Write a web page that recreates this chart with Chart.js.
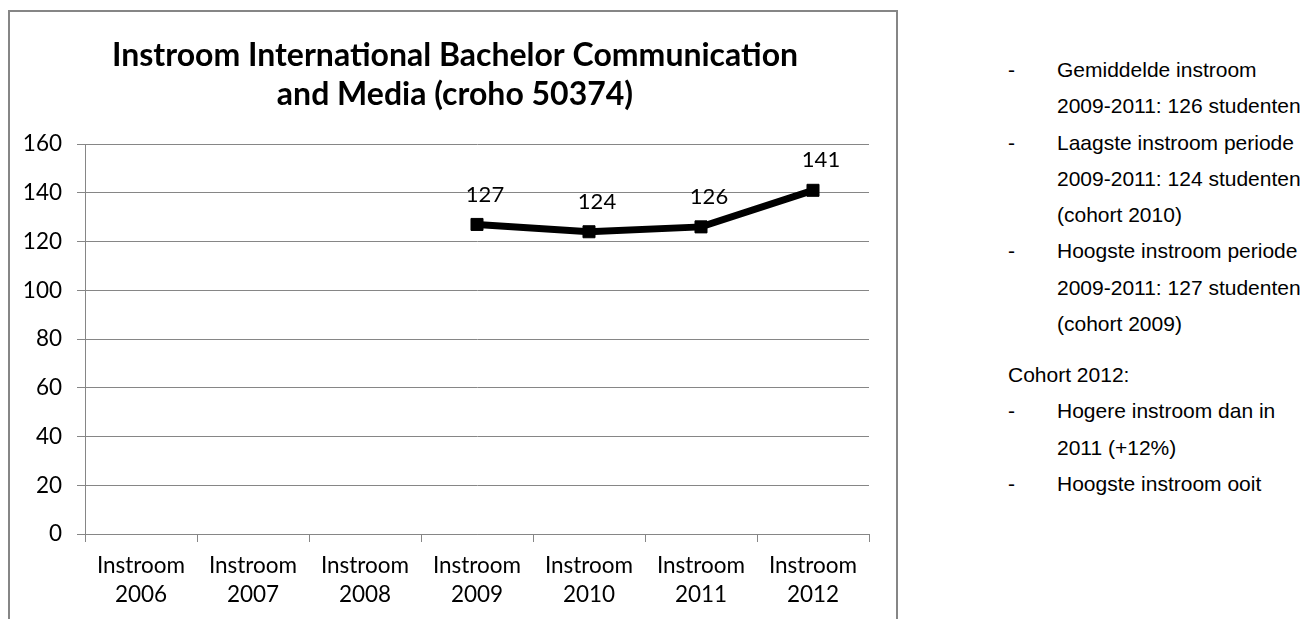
<!DOCTYPE html>
<html lang="nl">
<head>
<meta charset="utf-8">
<title>Instroom International Bachelor Communication and Media</title>
<script src="https://cdn.jsdelivr.net/npm/chart.js@4.4.1/dist/chart.umd.min.js"></script>
<style>
  html, body { margin: 0; padding: 0; background: #fff; overflow: hidden; }
  #frame {
    position: absolute; left: 8px; top: 10px; width: 890px; height: 700px;
    border: 2px solid #868686; box-sizing: border-box;
  }
  #chartBox { position: absolute; left: 0; top: 0; width: 910px; height: 619px; }
  .notes {
    position: absolute; left: 1008px; color: #000; white-space: nowrap;
    font-family: 'Liberation Sans', Arial, sans-serif; font-size: 21px; line-height: 36.3px;
  }
  .item { position: relative; padding-left: 49px; }
  .item .dash { position: absolute; left: 0; top: 0; }
</style>
</head>
<body>
<div id="frame"></div>
<div id="chartBox"><canvas id="instroomChart"></canvas></div>

<div class="notes" style="top: 52px">
  <div class="item"><span class="dash">-</span>Gemiddelde instroom<br>2009-2011: 126 studenten</div>
  <div class="item"><span class="dash">-</span>Laagste instroom periode<br>2009-2011: 124 studenten<br>(cohort 2010)</div>
  <div class="item"><span class="dash">-</span>Hoogste instroom periode<br>2009-2011: 127 studenten<br>(cohort 2009)</div>
</div>
<div class="notes" style="top: 357px">
  <div>Cohort 2012:</div>
  <div class="item"><span class="dash">-</span>Hogere instroom dan in<br>2011 (+12%)</div>
  <div class="item"><span class="dash">-</span>Hoogste instroom ooit</div>
</div>

<script>
// cohort years on the x axis
const years = ['2006', '2007', '2008', '2009', '2010', '2011', '2012'];
// number of first-year students per cohort (no data before 2009)
const instroom = [null, null, null, 127, 124, 126, 141];
// y axis range
const yMin = 0;
const yMax = 160;
const yStep = 20;

const titleLines = ['Instroom International Bachelor Communication', 'and Media (croho 50374)'];

const gridGray = '#868686';
const tickFont = { family: 'Lato', size: 22.5, lineHeight: 1.29 };

// draws the value above each point, like Excel's "above" data labels
const pointLabels = {
    id: 'pointLabels',
    afterDatasetsDraw(chart) {
        const ctx = chart.ctx;
        const values = chart.data.datasets[0].data;
        const meta = chart.getDatasetMeta(0);
        ctx.save();
        ctx.font = '22px Lato';
        ctx.fillStyle = '#000';
        ctx.textAlign = 'center';
        ctx.textBaseline = 'middle';
        meta.data.forEach((pt, i) => {
            if (values[i] === null) return;
            ctx.fillText(String(values[i]), pt.x + 8, pt.y - 30);
        });
        ctx.restore();
    }
};

function buildChart() {
    const canvas = document.getElementById('instroomChart');

    new Chart(canvas, {
        type: 'line',
        data: {
            labels: years.map(y => ['Instroom', y]),
            datasets: [{
                label: 'Instroom',
                data: instroom,
                borderColor: '#000',
                borderWidth: 7,
                backgroundColor: '#000',
                pointStyle: 'rect',
                pointRadius: 8.5,
                pointBorderWidth: 1,
                pointBackgroundColor: '#000',
                pointBorderColor: '#000',
                tension: 0,
                spanGaps: false
            }]
        },
        options: {
            responsive: true,
            maintainAspectRatio: false,
            animation: false,
            layout: {
                padding: { top: 15.6, left: 0, right: 0, bottom: 0 }
            },
            plugins: {
                legend: { display: false },
                tooltip: { enabled: false },
                title: {
                    display: true,
                    text: titleLines,
                    color: '#000',
                    font: { family: 'Lato', size: 32, weight: 'bold', lineHeight: 1.225 },
                    padding: { top: 20, bottom: 30 }
                }
            },
            scales: {
                x: {
                    offset: true,
                    grid: {
                        offset: true,
                        drawOnChartArea: false,
                        tickLength: 8,
                        color: gridGray
                    },
                    border: { color: gridGray },
                    ticks: {
                        color: '#000',
                        padding: 9,
                        maxRotation: 0,
                        autoSkip: false,
                        font: tickFont
                    },
                    afterFit(scale) { scale.height = 85; }
                },
                y: {
                    min: yMin,
                    max: yMax,
                    ticks: {
                        stepSize: yStep,
                        color: '#000',
                        padding: 15,
                        font: tickFont
                    },
                    grid: { color: gridGray, tickLength: 8 },
                    border: { color: gridGray },
                    afterFit(scale) { scale.width = 85; }
                },
                // empty space on the right so the title stays centred on the frame
                spacer: {
                    type: 'linear',
                    position: 'right',
                    grid: { display: false },
                    border: { display: false },
                    ticks: { display: false },
                    afterFit(scale) { scale.width = 41; }
                }
            }
        },
        plugins: [pointLabels]
    });
}

window.addEventListener('load', buildChart);
</script>
</body>
</html>
